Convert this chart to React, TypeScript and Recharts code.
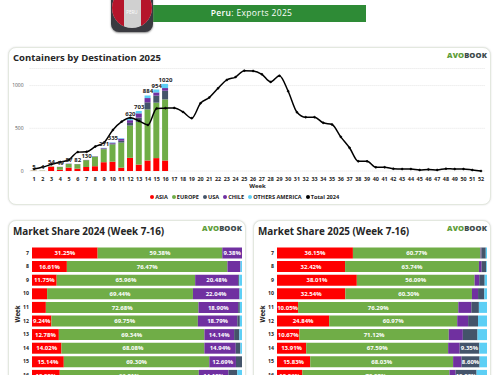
import {
  Bar,
  BarChart,
  CartesianGrid,
  ComposedChart,
  LabelList,
  Legend,
  Line,
  XAxis,
  YAxis,
} from 'recharts'

const weeks = Array.from({ length: 52 }, (_, i) => String(i + 1))

const asia = [2, 1, 50, 15, 40, 28, 47, 56, 103, 109, 39, 154, 75, 123, 151, 123]
const europe = [3, 3, 4, 32, 42, 52, 79, 110, 152, 202, 294, 378, 500, 598, 649, 715]
const usa = [0, 0, 0, 1, 2, 1, 3, 4, 7, 10, 21, 31, 50, 83, 82, 102]
const chile = [0, 0, 0, 1, 2, 1, 1, 2, 6, 10, 24, 32, 50, 50, 38, 31]
const othersAmerica = [0, 0, 0, 0, 1, 0, 0, 0, 3, 4, 7, 25, 28, 30, 34, 49]
const barLabels = ['5', '4', '54', '49', '87', '82', '130', '', '271', '335', '', '620', '703', '884', '954', '1020']
const total2024 = [
  23, 46, 78, 105, 132, 221, 225, 287, 333, 480, 578, 624, 585, 539, 733, 736, 739, 692, 618, 793, 860, 968, 1066,
  1100, 1175, 1171, 1132, 1043, 1116, 934, 688, 630, 630, 564, 545, 400, 272, 113, 113, 43, 43, 27, 23, 23, 12, 19,
  12, 27, 23, 23, 12, 0,
]

const shareWeeks = ['7', '8', '9', '10', '11', '12', '13', '14', '15', '16']
const asia24 = [31.25, 16.61, 11.75, 7.2, 6.6, 9.24, 12.78, 14.02, 15.14, 13.22]
const europe24 = [59.38, 76.47, 65.96, 69.44, 72.68, 69.75, 69.34, 68.08, 69.3, 66.21]
const chile24 = [9.38, 6.2, 20.48, 22.04, 18.9, 18.79, 14.14, 14.94, 12.69, 14.12]
const usa24 = [0, 0, 0.5, 0.2, 0.8, 1.2, 2.5, 2.2, 2.87, 4.2]
const others24 = [0, 0.72, 1.31, 1.12, 1.02, 1.02, 1.24, 0.76, 0, 2.25]
const asia25 = [36.15, 32.42, 38.01, 32.54, 10.05, 24.84, 10.67, 13.91, 15.83, 12.06]
const europe25 = [60.77, 63.74, 56.09, 60.3, 76.29, 60.97, 71.12, 67.59, 68.03, 70.08]
const chile25 = [0.4, 1.3, 2.2, 2.9, 6.2, 5.2, 6.7, 5.5, 4.0, 2.9]
const usa25 = [2.1, 2.2, 2.6, 3.0, 3.6, 4.7, 7.0, 9.35, 8.6, 10.0]
const others25 = [0.58, 0.34, 1.1, 1.26, 3.86, 4.29, 4.51, 3.65, 3.54, 4.96]

const RED = '#ff0000'
const GREEN = '#70ad47'
const SLATE = '#44546a'
const PURPLE = '#7030a0'
const CYAN = '#5dcff5'
const FONT = '"Open Sans", sans-serif'

const mainRows = weeks.map((w, i) => ({
  week: w,
  asia: asia[i],
  europe: europe[i],
  usa: usa[i],
  chile: chile[i],
  others: othersAmerica[i],
  top: i < asia.length ? asia[i] + europe[i] + usa[i] + chile[i] + othersAmerica[i] : undefined,
  label: barLabels[i],
  total2024: total2024[i],
}))

const legendItems = [
  { name: 'ASIA', color: RED },
  { name: 'EUROPE', color: GREEN },
  { name: 'USA', color: SLATE },
  { name: 'CHILE', color: PURPLE },
  { name: 'OTHERS AMERICA', color: CYAN },
  { name: 'Total 2024', color: '#000' },
]

function MainLegend() {
  return (
    <div style={{ display: 'flex', justifyContent: 'center', gap: 4, fontSize: 5.6, fontWeight: 700, color: '#222', fontFamily: FONT, paddingRight: 5, marginTop: 1.5 }}>
      {legendItems.map((l) => (
        <span key={l.name} style={{ display: 'flex', alignItems: 'center', gap: 1 }}>
          <span style={{ width: 4, height: 4, borderRadius: 2, background: l.color, display: 'inline-block' }} />
          {l.name}
        </span>
      ))}
    </div>
  )
}

function Logo({ right, top }: { right: number; top: number }) {
  return (
    <div style={{ position: 'absolute', right, top, fontFamily: FONT, fontSize: 7.6, fontWeight: 800, letterSpacing: 0.1, lineHeight: '9px' }}>
      <span style={{ color: '#5f9e3a' }}>AVO</span>
      <span style={{ color: '#3c4a4a' }}>BOOK</span>
    </div>
  )
}

function Card({ left, top, width, height, title, titleSize, children }: any) {
  return (
    <div
      style={{
        position: 'absolute',
        left,
        top,
        width: width - 2,
        height: height - 2,
        border: '1px solid #e3e8df',
        borderRadius: 8,
        boxShadow: '0 0 2px #ddd',
        background: '#fff',
      }}
    >
      <div style={{ position: 'absolute', left: 4, top: 1.5, fontFamily: FONT, fontWeight: 700, fontSize: titleSize, lineHeight: '16px', color: '#262626', whiteSpace: 'nowrap' }}>
        {title}
      </div>
      <Logo right={3} top={3} />
      {children}
    </div>
  )
}

const shareLabel = (v: any) => (v >= 8 ? `${v.toFixed(2)}%` : '')

function ShareChart({ a, e, c, u, o }: { a: number[]; e: number[]; c: number[]; u: number[]; o: number[] }) {
  const rows = shareWeeks.map((w, i) => ({ week: w, a: a[i], e: e[i], c: c[i], u: u[i], o: o[i] }))
  const series = [
    { key: 'a', color: RED },
    { key: 'e', color: GREEN },
    { key: 'c', color: PURPLE },
    { key: 'u', color: SLATE },
    { key: 'o', color: CYAN },
  ]
  return (
    <BarChart
      width={238}
      height={171}
      layout="vertical"
      data={rows}
      barCategoryGap={1.5}
      margin={{ top: 25, right: 5, bottom: 10, left: 0 }}
      style={{ position: 'absolute', left: 0, top: 0 }}
    >
      <XAxis type="number" domain={[0, 100]} hide />
      <YAxis
        type="category"
        dataKey="week"
        width={23}
        interval={0}
        tickLine={false}
        axisLine={false}
        tickSize={2}
        tickMargin={1}
        tick={{ fontSize: 5.2, fontWeight: 700, fill: '#222', fontFamily: FONT }}
        label={{ value: 'Week', angle: -90, position: 'insideLeft', offset: 9, style: { fontSize: 6.2, fontWeight: 700, fill: '#222', fontFamily: FONT, textAnchor: 'middle' } }}
      />
      {series.map((s) => (
        <Bar key={s.key} dataKey={s.key} stackId="s" fill={s.color} isAnimationActive={false}>
          <LabelList dataKey={s.key} position="center" formatter={shareLabel} style={{ fontSize: 6, fontWeight: 700, fill: '#fff', fontFamily: FONT }} />
        </Bar>
      ))}
    </BarChart>
  )
}

export default function App() {
  return (
    <div style={{ position: 'absolute', left: 0, top: 0, width: 500, height: 375, overflow: 'hidden', background: '#fff' }}>
      {/* header */}
      <div style={{ position: 'absolute', left: 153, top: 5, width: 197, paddingRight: 16, height: 17, background: '#2e8b36', color: '#fff', fontFamily: FONT, fontSize: 8.5, lineHeight: '16.5px', textAlign: 'center', letterSpacing: 0.35 }}>
        <span style={{ fontWeight: 600 }}>Peru</span>: Exports 2025
      </div>
      <div style={{ position: 'absolute', left: 111, top: -14, width: 42, height: 46, borderRadius: 8, background: '#3a3a40', boxShadow: '0 1px 2px #888' }}>
        <div style={{ position: 'absolute', left: 1, top: 2, width: 40, height: 40, borderRadius: 20, overflow: 'hidden', background: '#d0d0d0' }}>
          <div style={{ position: 'absolute', left: 0, top: 0, width: 12, height: 40, background: '#b5152b' }} />
          <div style={{ position: 'absolute', right: 0, top: 0, width: 11, height: 40, background: '#b5152b' }} />
          <div style={{ position: 'absolute', left: 0, width: 40, top: 21, textAlign: 'center', fontFamily: FONT, fontSize: 4.5, color: '#fff' }}>PERU</div>
        </div>
      </div>

      <Card left={8} top={47} width={483} height={158} title="Containers by Destination 2025" titleSize={9.5}>
        <ComposedChart
          width={481}
          height={156}
          data={mainRows}
          margin={{ top: 20.5, right: 4.6, bottom: 0, left: 0 }}
          style={{ position: 'absolute', left: 0, top: 0 }}
        >
          <CartesianGrid vertical={false} stroke="#e4e4e4" strokeDasharray="1 1" />
          <XAxis
            dataKey="week"
            interval={0}
            tickLine={false}
            axisLine={false}
            height={20}
            tickMargin={0}
            tick={{ fontSize: 5.4, fontWeight: 700, fill: '#222', fontFamily: FONT }}
            label={{ value: 'Week', position: 'insideBottom', offset: 3, style: { fontSize: 6, fontWeight: 700, fill: '#222', fontFamily: FONT } }}
          />
          <YAxis
            domain={[0, 1200]}
            ticks={[0, 500, 1000]}
            width={20.6}
            tickLine={false}
            axisLine={false}
            tickSize={4}
            tick={{ fontSize: 5, fill: '#555', fontFamily: FONT }}
          />
          <Legend verticalAlign="bottom" height={13} content={<MainLegend />} />
          <Bar dataKey="asia" stackId="w" fill={RED} barSize={6} isAnimationActive={false} />
          <Bar dataKey="europe" stackId="w" fill={GREEN} barSize={6} isAnimationActive={false} />
          <Bar dataKey="usa" stackId="w" fill={SLATE} barSize={6} isAnimationActive={false} />
          <Bar dataKey="chile" stackId="w" fill={PURPLE} barSize={6} isAnimationActive={false} />
          <Bar dataKey="others" stackId="w" fill={CYAN} barSize={6} isAnimationActive={false} />
          <Line dataKey="total2024" type="monotone" stroke="#000" strokeWidth={1.5} dot={{ r: 1, fill: '#000', stroke: '#000', strokeWidth: 0.5 }} isAnimationActive={false} />
          <Line dataKey="top" stroke="none" dot={false} isAnimationActive={false} legendType="none">
            <LabelList dataKey="label" position="top" offset={2} style={{ fontSize: 6, fontWeight: 700, fill: '#222', fontFamily: FONT }} />
          </Line>
        </ComposedChart>
      </Card>

      <Card left={8} top={220} width={238} height={175} title="Market Share 2024 (Week 7-16)" titleSize={9.9}>
        <ShareChart a={asia24} e={europe24} c={chile24} u={usa24} o={others24} />
      </Card>
      <Card left={253} top={220} width={238} height={175} title="Market Share 2025 (Week 7-16)" titleSize={9.9}>
        <ShareChart a={asia25} e={europe25} c={chile25} u={usa25} o={others25} />
      </Card>
    </div>
  )
}
